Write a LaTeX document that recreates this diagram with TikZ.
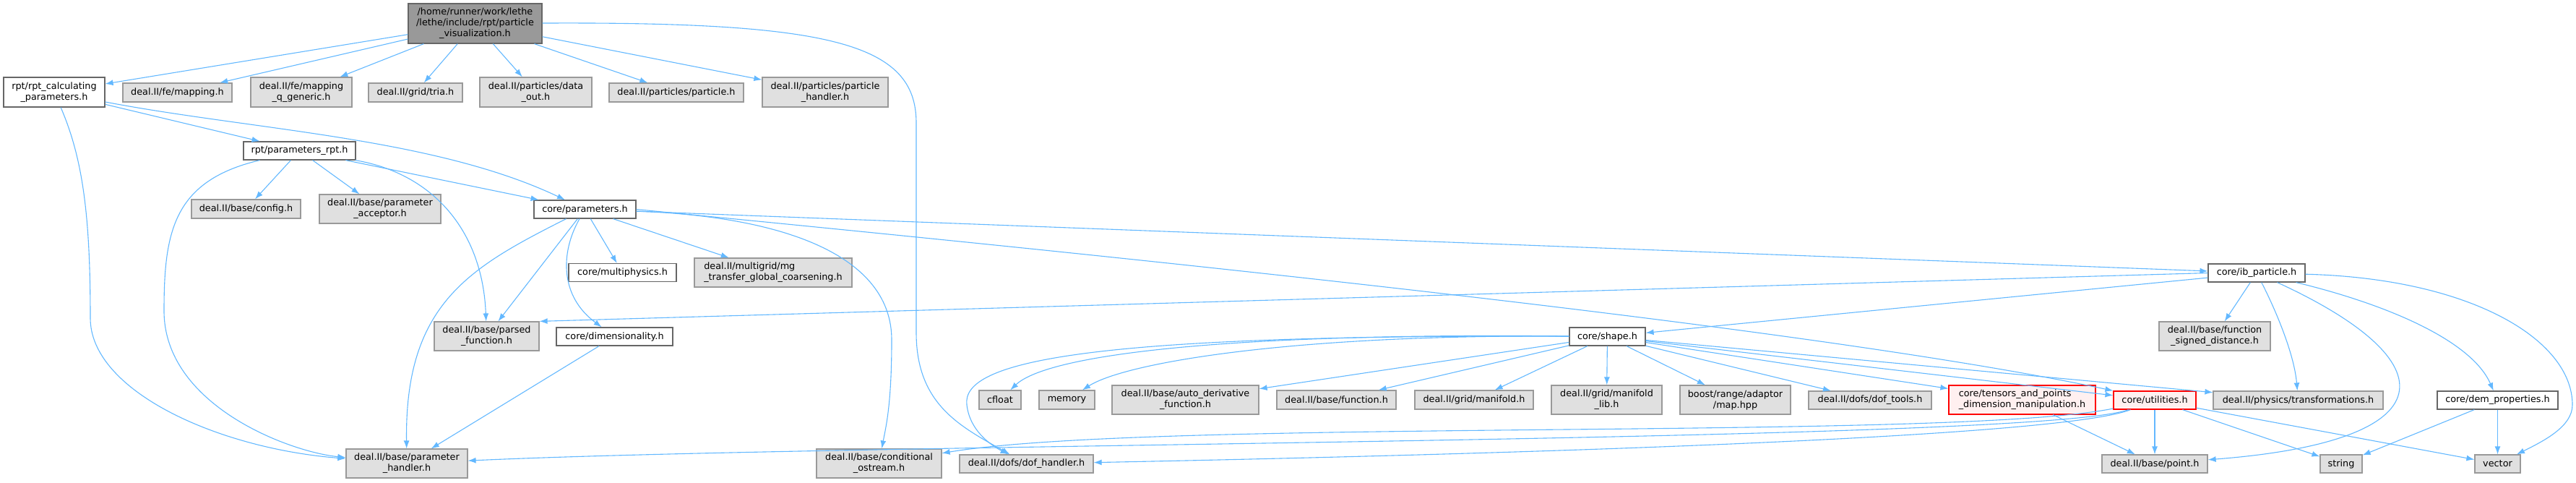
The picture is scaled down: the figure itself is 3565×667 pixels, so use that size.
\documentclass[tikz,border=0pt]{standalone}
\usepackage{fontspec}
\setmainfont{DejaVu Sans}
\usetikzlibrary{arrows.meta}
\definecolor{edgeblue}{HTML}{63B8FF}
\definecolor{boxgray}{HTML}{E0E0E0}
\definecolor{boxline}{HTML}{999999}
\definecolor{darkline}{HTML}{666666}
\definecolor{rootgray}{HTML}{999999}
\definecolor{redfill}{HTML}{FFF0F0}

\begin{document}
\begin{tikzpicture}[x=1pt, y=-1pt,
  >={Latex[length=11pt, width=8pt]},
  file/.style={rectangle, line width=1.2pt, inner xsep=4pt, inner ysep=2pt,
    font=\fontsize{12.8}{15}\selectfont, align=center, text=black},
  extfile/.style={file, fill=boxgray, draw=boxline},
  ownfile/.style={file, fill=white, draw=darkline},
  cutfile/.style={file, fill=redfill, draw=red},
  rootfile/.style={file, fill=rootgray, draw=darkline},
  dep/.style={->, edgeblue, line width=1.1pt}]

\useasboundingbox (0,0) rectangle (3565,667);

% Top row
\node[rootfile, minimum width=185pt, minimum height=55pt] (root) at (657.5,32.5) {/home/runner/work/lethe\\/lethe/include/rpt/particle\\\_visualization.h};
\node[ownfile, minimum width=140pt, minimum height=41pt] (rptcalc) at (75,127.5) {rpt/rpt\_calculating\\\_parameters.h};
\node[extfile, minimum width=151pt, minimum height=26pt] (femap) at (245.5,128) {deal.II/fe/mapping.h};
\node[extfile, minimum width=140pt, minimum height=41pt] (femapq) at (417,127.5) {deal.II/fe/mapping\\\_q\_generic.h};
\node[extfile, minimum width=130pt, minimum height=26pt] (tria) at (575,128) {deal.II/grid/tria.h};
\node[extfile, minimum width=155pt, minimum height=41pt] (pdataout) at (741.5,127.5) {deal.II/particles/data\\\_out.h};
\node[extfile, minimum width=186pt, minimum height=26pt] (particle) at (936,128) {deal.II/particles/particle.h};
\node[extfile, minimum width=174pt, minimum height=41pt] (phandler) at (1142,127.5) {deal.II/particles/particle\\\_handler.h};

% Parameters
\node[ownfile, minimum width=155pt, minimum height=25pt] (paramrpt) at (414.5,208.5) {rpt/parameters\_rpt.h};
\node[extfile, minimum width=151pt, minimum height=26pt] (config) at (340.5,289) {deal.II/base/config.h};
\node[extfile, minimum width=168pt, minimum height=40pt] (paracc) at (526,289) {deal.II/base/parameter\\\_acceptor.h};
\node[ownfile, minimum width=141pt, minimum height=25pt] (coreparam) at (809.5,289.5) {core/parameters.h};
\node[ownfile, minimum width=149pt, minimum height=25pt] (multiphys) at (861.5,377) {core/multiphysics.h};
\node[extfile, minimum width=218pt, minimum height=40pt, align=left] (mgtransfer) at (1070,377) {deal.II/multigrid/mg\\\_transfer\_global\_coarsening.h};
\node[extfile, minimum width=145pt, minimum height=40pt] (parsed) at (673.5,465) {deal.II/base/parsed\\\_function.h};
\node[ownfile, minimum width=161pt, minimum height=25pt] (dimens) at (850.5,465.5) {core/dimensionality.h};
\node[extfile, minimum width=168pt, minimum height=40pt] (paramhandler) at (563,641) {deal.II/base/parameter\\\_handler.h};
\node[extfile, minimum width=173pt, minimum height=40pt] (condostream) at (1216.5,641) {deal.II/base/conditional\\\_ostream.h};
\node[extfile, minimum width=185pt, minimum height=25pt] (dofhandler) at (1420.5,641.5) {deal.II/dofs/dof\_handler.h};

% IB particle and shape
\node[ownfile, minimum width=134pt, minimum height=25pt] (ibparticle) at (3123,377.5) {core/ib\_particle.h};
\node[ownfile, minimum width=105pt, minimum height=25pt] (shape) at (2224.5,465.5) {core/shape.h};
\node[extfile, minimum width=154pt, minimum height=40pt] (fsd) at (3065,465) {deal.II/base/function\\\_signed\_distance.h};

% Shape row
\node[extfile, minimum width=58pt, minimum height=26pt] (cfloat) at (1384,553) {cfloat};
\node[extfile, minimum width=77pt, minimum height=26pt] (memory) at (1476.5,553) {memory};
\node[extfile, minimum width=203pt, minimum height=40pt] (autoderiv) at (1640.5,553) {deal.II/base/auto\_derivative\\\_function.h};
\node[extfile, minimum width=165pt, minimum height=26pt] (function) at (1849.5,553) {deal.II/base/function.h};
\node[extfile, minimum width=164pt, minimum height=26pt] (manifold) at (2040,553) {deal.II/grid/manifold.h};
\node[extfile, minimum width=153pt, minimum height=40pt] (manifoldlib) at (2223.5,553) {deal.II/grid/manifold\\\_lib.h};
\node[extfile, minimum width=153pt, minimum height=40pt] (mapadaptor) at (2401.5,553) {boost/range/adaptor\\/map.hpp};
\node[extfile, minimum width=170pt, minimum height=25pt] (doftools) at (2588,553.5) {deal.II/dofs/dof\_tools.h};
\node[cutfile, minimum width=203pt, minimum height=40pt, align=left] (tensors) at (2798.5,553) {core/tensors\_and\_points\\\_dimension\_manipulation.h};
\node[cutfile, minimum width=114pt, minimum height=25pt] (utilities) at (2982,553.5) {core/utilities.h};
\node[extfile, minimum width=235pt, minimum height=25pt] (transf) at (3180.5,553.5) {deal.II/physics/transformations.h};
\node[ownfile, minimum width=167pt, minimum height=25pt] (demprop) at (3456.5,553.5) {core/dem\_properties.h};

% Bottom row
\node[extfile, minimum width=146pt, minimum height=25pt] (point) at (2982,641.5) {deal.II/base/point.h};
\node[extfile, minimum width=58pt, minimum height=25pt] (string) at (3240,641.5) {string};
\node[extfile, minimum width=63pt, minimum height=25pt] (vector) at (3456.5,641.5) {vector};

% Root includes
\draw[dep] (root) -- (rptcalc);
\draw[dep] (root) -- (femap);
\draw[dep] (root) -- (femapq);
\draw[dep] (root) -- (tria);
\draw[dep] (root) -- (pdataout);
\draw[dep] (root) -- (particle);
\draw[dep] (root) -- (phandler);
\draw[dep] (root) .. controls (1150,30) and (1268,60) .. (1268,170) -- (1268,460) .. controls (1268,560) and (1330,590) .. (dofhandler);

% rpt parameters
\draw[dep] (rptcalc) -- (paramrpt);
\draw[dep] (rptcalc) .. controls (350,180) and (600,190) .. (coreparam);
\draw[dep] (rptcalc) .. controls (115,220) and (125,300) .. (125,440) .. controls (125,540) and (300,620) .. (paramhandler);
\draw[dep] (paramrpt) -- (config);
\draw[dep] (paramrpt) -- (paracc);
\draw[dep] (paramrpt) -- (coreparam);
\draw[dep] (paramrpt) .. controls (600,240) and (668,320) .. (parsed);
\draw[dep] (paramrpt) .. controls (240,250) and (227,320) .. (227,430) .. controls (227,560) and (400,625) .. (paramhandler);

% core/parameters.h
\draw[dep] (coreparam) -- (parsed);
\draw[dep] (coreparam) .. controls (650,370) and (560,420) .. (paramhandler);
\draw[dep] (coreparam) -- (multiphys);
\draw[dep] (coreparam) -- (mgtransfer);
\draw[dep] (coreparam) .. controls (775,350) and (775,410) .. (dimens);
\draw[dep] (coreparam) .. controls (1100,300) and (1234,360) .. (1234,470) .. controls (1234,560) and (1226,590) .. (condostream);
\draw[dep] (coreparam) -- (ibparticle);
\draw[dep] (coreparam.east) .. controls (1500,350) and (2500,450) .. (utilities.north west);
\draw[dep] (dimens) -- (paramhandler);

% core/ib_particle.h
\draw[dep] (ibparticle.west) -- (parsed.north east);
\draw[dep] (ibparticle) -- (shape);
\draw[dep] (ibparticle) -- (fsd);
\draw[dep] (ibparticle) .. controls (3150,430) and (3175,490) .. (transf);
\draw[dep] (ibparticle) .. controls (3390,500) and (3390,610) .. (point);
\draw[dep] (ibparticle) .. controls (3300,420) and (3420,470) .. (demprop);
\draw[dep] (ibparticle) .. controls (3420,385) and (3560,470) .. (3560,560) .. controls (3560,590) and (3520,610) .. (vector);

% core/shape.h
\draw[dep] (shape) .. controls (1500,462) and (1330,500) .. (1338,560) .. controls (1342,595) and (1370,615) .. (dofhandler);
\draw[dep] (shape) .. controls (1700,460) and (1450,490) .. (cfloat);
\draw[dep] (shape) .. controls (1800,462) and (1560,500) .. (memory);
\draw[dep] (shape) -- (autoderiv);
\draw[dep] (shape) -- (function);
\draw[dep] (shape) -- (manifold);
\draw[dep] (shape) -- (manifoldlib);
\draw[dep] (shape) -- (mapadaptor);
\draw[dep] (shape) -- (doftools);
\draw[dep] (shape) -- (tensors);
\draw[dep] (shape) -- (utilities);
\draw[dep] (shape) -- (transf);

% core/utilities.h and the rest
\draw[dep] (tensors) -- (point);
\draw[dep] (utilities) -- (point);
\draw[dep] (utilities) -- (string);
\draw[dep] (utilities) -- (vector);
\draw[dep] (utilities) .. controls (2820,612) and (1200,612) .. (paramhandler);
\draw[dep] (utilities) .. controls (2700,610) and (1600,578) .. (condostream);
\draw[dep] (utilities) .. controls (2850,605) and (2100,628) .. (dofhandler);
\draw[dep] (demprop) -- (string);
\draw[dep] (demprop) -- (vector);

\end{tikzpicture}
\end{document}
